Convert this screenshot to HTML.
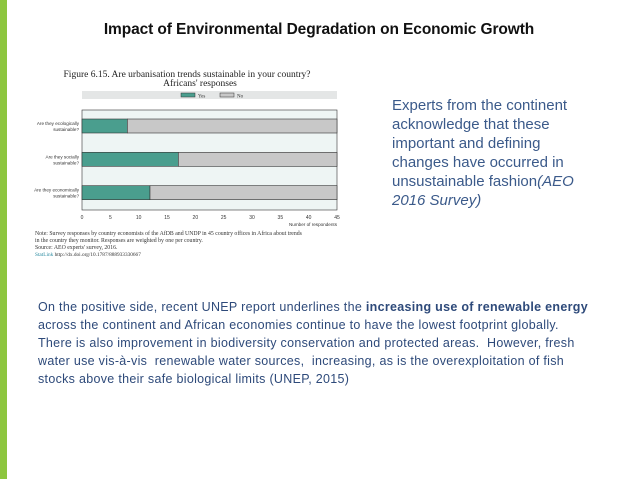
<!DOCTYPE html>
<html><head><meta charset="utf-8"><style>
body{margin:0;width:638px;height:479px;background:#fff;position:relative;overflow:hidden;font-family:"Liberation Sans",sans-serif}
.abs{position:absolute}
#title{left:0;width:638px;top:21px;text-align:center;font-weight:bold;font-size:15.5px;color:#111;letter-spacing:-0.1px}
#side{left:392px;top:96px;font-size:15px;line-height:19px;color:#3b5a8a}
#para{left:38px;top:298px;font-size:12.5px;line-height:18px;color:#2e4a7a;letter-spacing:0.3px;white-space:nowrap}
</style></head><body>
<div class="abs" style="left:0;top:0;width:7px;height:479px;background:#8dc63f"></div>
<div class="abs" id="title">Impact of Environmental Degradation on Economic Growth</div>
<svg class="abs" style="left:0;top:0" width="360" height="280" id="chart" font-family="Liberation Serif, serif"></svg>
<div class="abs" id="side">Experts from the continent<br>acknowledge that these<br>important and defining<br>changes have occurred in<br>unsustainable fashion<i>(AEO<br>2016 Survey)</i></div>
<div class="abs" id="para">On the positive side, recent UNEP report underlines the <b>increasing use of renewable energy</b><br>across the continent and African economies continue to have the lowest footprint globally.<br>There is also improvement in biodiversity conservation and protected areas.&nbsp; However, fresh<br>water use vis-à-vis&nbsp; renewable water sources,&nbsp; increasing, as is the overexploitation of fish<br>stocks above their safe biological limits (UNEP, 2015)</div>
<script>
const categories=["Are they ecologically sustainable?","Are they socially sustainable?","Are they economically sustainable?"];
const yesValues=[8,17,12];
const noValues=[37,28,33];
const ticks=[0,5,10,15,20,25,30,35,40,45];
const svg=document.getElementById('chart');const NS='http://www.w3.org/2000/svg';
function mk(t,a,txt){const e=document.createElementNS(NS,t);for(const k in a)e.setAttribute(k,a[k]);if(txt!=null)e.textContent=txt;svg.appendChild(e);return e;}
const x0=82,x1=337,y0=110,y1=210,xmax=45;
const xs=v=>x0+(x1-x0)*v/xmax;
const band=(y1-y0)/categories.length;
let e;
e=mk('text',{x:187,y:77,'font-size':9.5,'text-anchor':'middle',fill:'#222'},'Figure 6.15. Are urbanisation trends sustainable in your country?');


e=mk('text',{x:200,y:86,'font-size':9.5,'text-anchor':'middle',fill:'#222'},"Africans' responses");


e=mk('rect',{x:x0,y:91,width:x1-x0,height:8,fill:'#e4e6e6'});


e=mk('rect',{x:181,y:93,width:14,height:4,fill:'#4a9e8e',stroke:'#333','stroke-width':0.5});


e=mk('text',{x:198,y:97.5,'font-size':5,fill:'#333'},'Yes');


e=mk('rect',{x:220,y:93,width:14,height:4,fill:'#c8c8c8',stroke:'#333','stroke-width':0.5});


e=mk('text',{x:237,y:97.5,'font-size':5,fill:'#333'},'No');


e=mk('rect',{x:x0,y:y0,width:x1-x0,height:y1-y0,fill:'#eef5f4',stroke:'#333','stroke-width':0.6});


categories.forEach((c,i)=>{
 const by=y0+band*i+band*0.27,bh=band*0.42;
 let r=mk('rect',{x:xs(0),y:by,width:xs(yesValues[i])-xs(0),height:bh,fill:'#4a9e8e',stroke:'#333','stroke-width':0.6});
 
 
 r=mk('rect',{x:xs(yesValues[i]),y:by,width:xs(yesValues[i]+noValues[i])-xs(yesValues[i]),height:bh,fill:'#c8c8c8',stroke:'#333','stroke-width':0.6});
 
 
 const parts=c.split(' ');const l2=parts.pop();
 let t=mk('text',{x:79,y:by+bh/2-1,'font-size':4.6,'text-anchor':'end',fill:'#333','font-family':'Liberation Sans, sans-serif'},parts.join(' '));
 
 
 t=mk('text',{x:79,y:by+bh/2+5,'font-size':4.6,'text-anchor':'end',fill:'#333','font-family':'Liberation Sans, sans-serif'},l2);
 
 
});
ticks.forEach(v=>{
 const t=mk('text',{x:xs(v),y:219,'font-size':5,'text-anchor':'middle',fill:'#333','font-family':'Liberation Sans, sans-serif'},String(v));
 
 
});
e=mk('text',{x:337,y:226,'font-size':4.6,'text-anchor':'end',fill:'#333','font-family':'Liberation Sans, sans-serif'},'Number of respondents');


const notes=["Note: Survey responses by country economists of the AfDB and UNDP in 45 country offices in Africa about trends","in the country they monitor. Responses are weighted by one per country.","Source: AEO experts' survey, 2016."];
notes.forEach((n,i)=>{const t=mk('text',{x:35,y:235+i*7,'font-size':5.8,fill:'#333'},n);
 
 });
e=mk('text',{x:35,y:256,'font-size':5.3,fill:'#333'},'');
e.innerHTML='<tspan fill="#2a8aa0">StatLink</tspan> http://dx.doi.org/10.1787/888933330667';


</script>
</body></html>
